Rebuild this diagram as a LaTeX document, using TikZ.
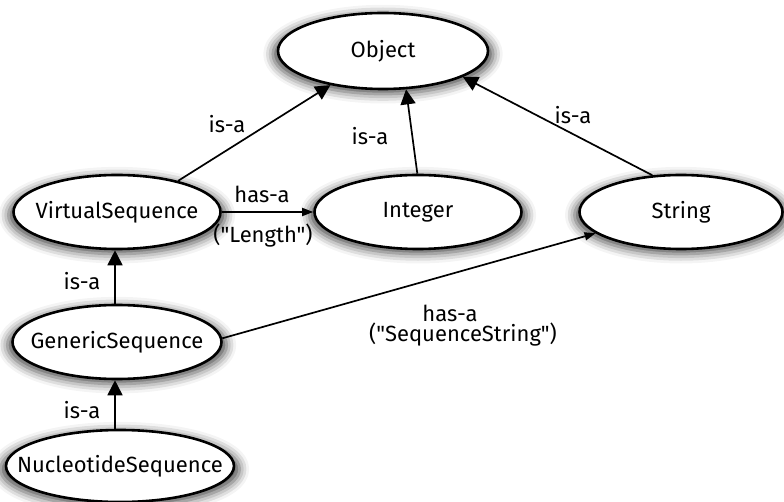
\documentclass[tikz,border=0pt]{standalone}
\usepackage{fontspec}
\setmainfont{Fira Sans}[Ligatures=TeXOff]
\usetikzlibrary{shapes.geometric,arrows.meta,shadows.blur}

% class name set in a zero-width box so the ellipse keeps its given size
\newcommand\clsname[1]{\makebox[0pt]{#1}}

\tikzset{
  txt/.style={font=\fontsize{22}{25}\selectfont},
  cls/.style={ellipse, draw=black, line width=2.6pt, fill=white, inner sep=0pt,
    minimum width=207pt, minimum height=74pt, txt,
    blur shadow={shadow xshift=0pt, shadow yshift=-3pt, shadow scale=1.05,
      shadow blur radius=9pt, shadow opacity=70}},
  isa/.style={line width=1.7pt, -{Triangle[length=15pt,width=15pt]}},
  hasa/.style={line width=1.7pt, -{Triangle[length=11pt,width=8pt]}},
  lbl/.style={inner sep=0pt, txt}
}

\begin{document}
\begin{tikzpicture}[x=1pt,y=-1pt]
  \useasboundingbox (0,0) rectangle (784,502);

  % classes
  \node[cls, minimum width=210pt, minimum height=76pt] (obj) at (383,51) {\clsname{Object}};
  \node[cls] (vs)  at (117,212) {\clsname{VirtualSequence}};
  \node[cls] (int) at (418,212) {\clsname{Integer}};
  \node[cls, minimum width=203pt] (str) at (681,212) {\clsname{String}};
  \node[cls, minimum width=209pt] (gs)  at (117,342) {\clsname{GenericSequence}};
  \node[cls, minimum width=228pt, minimum height=72pt] (ns) at (120,466) {\clsname{NucleotideSequence}};

  % inheritance
  \draw[isa] (vs.27) -- (obj.213);
  \draw[isa] (int.91) -- (obj.301);
  \draw[isa] (str.128) -- (obj.342);
  \draw[isa] (gs.north -| 115,0) -- (vs.south -| 115,0);
  \draw[isa] (ns.north -| 115,0) -- (gs.south -| 115,0);

  % composition
  \draw[hasa] (vs.east) -- (int.west);
  \draw[hasa] (gs.2) -- (str.194);

  % labels
  \node[lbl] (l1) at (227,124) {is-a};
  \node[lbl] (l2) at (370,136) {is-a};
  \node[lbl] (l3) at (573,115) {is-a};
  \node[lbl] (l4) at (82,281) {is-a};
  \node[lbl] (l5) at (82,410) {is-a};
  \node[lbl] (l6) at (262,194) {has-a};
  \node[lbl] (l7) at (263,236) {("Length")};
  \node[lbl] (l8) at (450,313) {has-a};
  \node[lbl] (l9) at (463,335) {("SequenceString")};
\end{tikzpicture}
\end{document}
